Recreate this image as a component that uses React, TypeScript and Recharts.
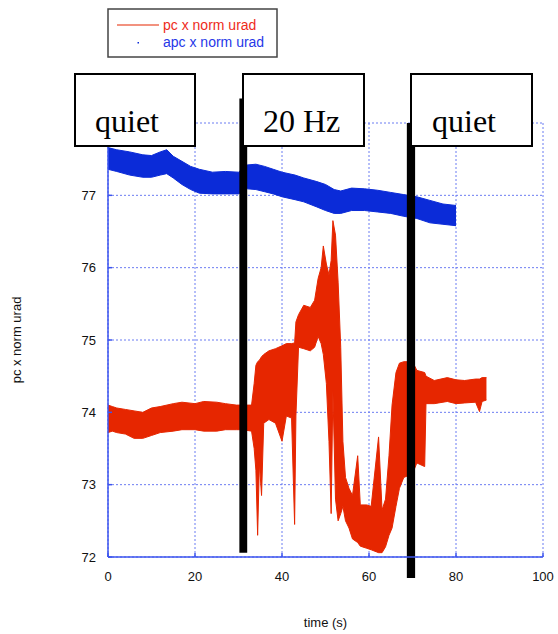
import React from "react"
import { ComposedChart, Area, XAxis, YAxis, CartesianGrid, ReferenceArea } from "recharts"

// pc x norm urad: envelope of the noisy trace (time, low, high)
const pcTime = [
  0, 1, 2, 4, 6, 8, 10, 12, 15, 17, 20, 22, 25, 27, 29.5, 31, 33, 33.6, 34.0, 34.4, 34.8, 35.3, 35.8, 37,
  38.5, 40, 41, 42.2, 42.9, 43.2, 43.8, 45, 46.5, 47.5, 48.3, 49.0, 49.5, 50.2, 50.8, 51.3, 51.7, 52.3,
  52.9, 53.5, 54.0, 54.6, 55.4, 56.2, 57.4, 58, 59.5, 60.5, 62.2, 63, 63.8, 64.6, 65.3, 66.2, 67, 68, 70, 71,
  72.8, 73.1, 75, 78, 80, 82, 84.5, 85.4, 86, 87,
]
const pcLow = [
  73.72, 73.74, 73.72, 73.7, 73.64, 73.64, 73.68, 73.72, 73.74, 73.76, 73.76, 73.74, 73.74, 73.76, 73.76,
  73.76, 73.74, 73.5, 73.2, 72.3, 73.3, 72.85, 73.85, 73.9, 73.85, 73.6, 73.95, 73.92, 72.45, 73.95, 74.9,
  74.88, 74.85, 74.9, 75.05, 74.95, 74.8, 74.4, 73.6, 72.6, 74.3, 72.8, 72.5, 72.6, 72.7, 72.5, 72.4, 72.25,
  72.2, 72.15, 72.12, 72.1, 72.06, 72.06, 72.14, 72.3, 72.4, 72.7, 72.95, 73.1, 73.15, 73.3, 73.25, 74.12,
  74.12, 74.15, 74.12, 74.13, 74.14, 74.01, 74.15, 74.17,
]
const pcHigh = [
  74.1, 74.08, 74.06, 74.04, 74.02, 74.0, 74.06, 74.08, 74.12, 74.14, 74.12, 74.15, 74.14, 74.12, 74.1,
  74.1, 74.1, 74.4, 74.65, 74.7, 74.72, 74.77, 74.8, 74.85, 74.88, 74.92, 74.95, 74.95, 74.96, 75.25, 75.35,
  75.48, 75.45, 75.55, 75.85, 76.0, 76.3, 76.05, 75.9, 76.1, 76.65, 76.45, 75.8, 74.9, 73.6, 73.1, 72.95,
  72.85, 73.4, 72.72, 72.72, 72.7, 73.66, 72.65, 72.8, 73.4, 74.1, 74.55, 74.68, 74.7, 74.7, 74.58, 74.55,
  74.5, 74.44, 74.48, 74.45, 74.44, 74.46, 74.46, 74.48, 74.48,
]

// apc x norm urad: envelope of the noisy trace
const apcTime = [0, 2, 5, 8, 10, 12, 13.5, 15, 17, 19, 21, 24, 27, 30, 32, 34, 36, 38, 40, 43, 45, 48, 50, 52, 53.5, 56, 59, 62, 65, 68, 71, 74, 77, 80]
const apcLow = [
  77.36, 77.33, 77.28, 77.25, 77.25, 77.28, 77.3, 77.24, 77.15, 77.08, 77.03, 77.02, 77.02, 77.02, 77.09,
  77.08, 77.05, 77.02, 76.98, 76.94, 76.91, 76.84, 76.79, 76.75, 76.75, 76.79, 76.79, 76.77, 76.75, 76.71,
  76.68, 76.62, 76.6, 76.58,
]
const apcHigh = [
  77.66, 77.63, 77.6, 77.56, 77.55, 77.6, 77.63, 77.54, 77.47, 77.4, 77.36, 77.32, 77.33, 77.32, 77.42,
  77.43, 77.4, 77.36, 77.32, 77.28, 77.24, 77.19, 77.15, 77.08, 77.06, 77.1, 77.09, 77.07, 77.04, 77.01,
  76.98, 76.93, 76.88, 76.86,
]

const xTicks = [0, 20, 40, 60, 80, 100]
const yTicks = [72, 73, 74, 75, 76, 77]
const frameYTicks = [72, 73, 74, 75, 76, 77, 78]

// black marker bars at the phase changes (in data units)
const markerStart = [30.2, 68.7]
const markerEnd = [32.0, 70.6]
const markerBottom = [72.06, 71.71]
const markerTop = [78.34, 78.0]

const phaseLabels = ["quiet", "20 Hz", "quiet"]

const pcData = pcTime.map((t, i) => ({ t, lo: pcLow[i], hi: pcHigh[i] }))
const apcData = apcTime.map((t, i) => ({ t, lo: apcLow[i], hi: apcHigh[i] }))

const RED = "#e62600"
const BLUE = "#0b2bd8"
const FRAME = "#3d55ee"
const GRID = "#6b7cf2"
const SANS = "'Liberation Sans', Arial, sans-serif"

const tickStyle = { fill: "#111", fontSize: 13, fontFamily: SANS }

export default function App() {
  const boxes = [
    { x: 67, w: 120, tx: 87 },
    { x: 235, w: 121, tx: 255 },
    { x: 403, w: 121, tx: 424 },
  ]
  return (
    <div style={{ position: "relative", width: 558, height: 634, padding: 8, boxSizing: "border-box", background: "#fff" }}>
      <style>{`body{margin:0}`}</style>
      <ComposedChart width={550} height={626} margin={{ top: 115, right: 15, bottom: 7, left: 0 }}>
        <CartesianGrid stroke={GRID} strokeDasharray="2 2" strokeWidth={1} />
        <XAxis
          type="number"
          dataKey="t"
          domain={[0, 100]}
          ticks={xTicks}
          allowDataOverflow
          height={70}
          stroke={FRAME}
          strokeWidth={1.5}
          tickSize={-4}
          tickMargin={19}
          tick={tickStyle}
          label={{ value: "time (s)", position: "insideBottom", offset: 0, fill: "#111", fontSize: 13, fontFamily: SANS }}
        />
        <XAxis
          xAxisId="top"
          orientation="top"
          type="number"
          domain={[0, 100]}
          ticks={xTicks}
          allowDataOverflow
          height={0}
          stroke={FRAME}
          strokeWidth={1.5}
          tickSize={-4}
          tick={false}
        />
        <YAxis
          type="number"
          domain={[72, 78]}
          ticks={yTicks}
          allowDataOverflow
          width={100}
          stroke={FRAME}
          strokeWidth={1.5}
          tickSize={-4}
          tickMargin={16}
          tick={tickStyle}
          label={{
            value: "pc x norm urad",
            angle: -90,
            position: "insideLeft",
            offset: 8,
            fill: "#111",
            fontSize: 13,
            fontFamily: SANS,
            style: { textAnchor: "middle" },
          }}
        />
        <YAxis
          yAxisId="right"
          orientation="right"
          type="number"
          domain={[72, 78]}
          ticks={frameYTicks}
          allowDataOverflow
          width={0}
          stroke={FRAME}
          strokeWidth={1.5}
          tickSize={-4}
          tick={false}
        />
        <Area
          data={apcData}
          dataKey={(d: any) => [d.lo, d.hi]}
          type="linear"
          stroke={BLUE}
          strokeWidth={1}
          fill={BLUE}
          fillOpacity={1}
          dot={false}
          activeDot={false}
          isAnimationActive={false}
        />
        <Area
          data={pcData}
          dataKey={(d: any) => [d.lo, d.hi]}
          type="linear"
          stroke={RED}
          strokeWidth={1}
          fill={RED}
          fillOpacity={1}
          dot={false}
          activeDot={false}
          isAnimationActive={false}
        />
        {markerStart.map((x1, i) => (
          <ReferenceArea
            key={i}
            x1={x1}
            x2={markerEnd[i]}
            y1={markerBottom[i]}
            y2={markerTop[i]}
            fill="#000"
            fillOpacity={1}
            stroke="none"
            ifOverflow="visible"
          />
        ))}
      </ComposedChart>
      <svg
        width={550}
        height={626}
        style={{ position: "absolute", left: 8, top: 8, pointerEvents: "none" }}
      >
        <rect x={100} y={1} width={169} height={48} fill="#fff" stroke="#444" strokeWidth={1.5} />
        <line x1={109} y1={17} x2={151} y2={17} stroke={RED} strokeWidth={1.2} />
        <text x={155} y={22} fill="#ee2b1b" fontSize={14} fontFamily={SANS}>
          pc x norm urad
        </text>
        <rect x={129.5} y={34} width={1.5} height={1.5} fill={BLUE} />
        <text x={155} y={39} fill="#2638e8" fontSize={14} fontFamily={SANS}>
          apc x norm urad
        </text>
        {boxes.map((b, i) => (
          <g key={i}>
            <rect x={b.x} y={66} width={b.w} height={72} fill="#fff" stroke="#000" strokeWidth={2} />
            <text x={b.tx} y={123.7} fontSize={32} fontFamily="'Liberation Serif', 'Times New Roman', serif" fill="#000">
              {phaseLabels[i]}
            </text>
          </g>
        ))}
      </svg>
    </div>
  )
}
